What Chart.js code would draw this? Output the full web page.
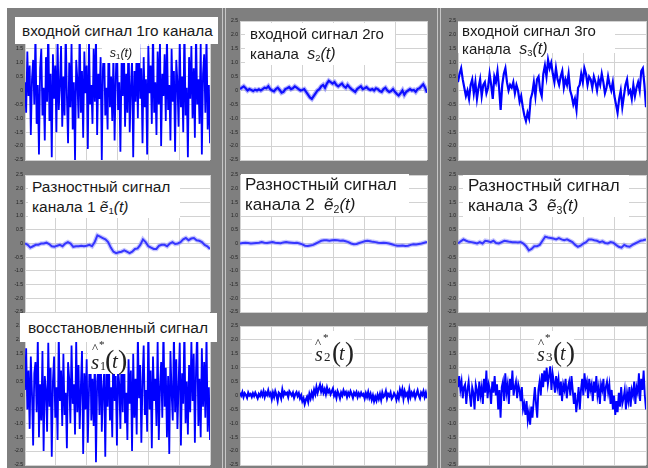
<!DOCTYPE html>
<html><head><meta charset="utf-8">
<script src="https://cdn.jsdelivr.net/npm/chart.js@4.4.1/dist/chart.umd.min.js"></script>
<style>
html,body{margin:0;padding:0;background:#fff;width:648px;height:468px;overflow:hidden;position:relative;}
#bg{position:absolute;left:7px;top:8px;width:641px;height:460px;background:#7f7f7f;}
.sep{position:absolute;top:8px;height:460px;width:1px;background:#c6c6c6;}
canvas{position:absolute;}
.lbl{position:absolute;background:#fff;color:#1a1a1a;font-family:"Liberation Sans",Arial,sans-serif;white-space:nowrap;box-sizing:border-box;z-index:5;}
.lbl i{font-style:italic;}
.sb{font-size:0.62em;vertical-align:-0.25em;font-style:normal;}
.f{position:absolute;background:#fff;font-family:"Liberation Serif","Times New Roman",serif;color:#222;z-index:5;}
.f span{position:absolute;line-height:1;}
</style></head><body>
<div id="bg"></div>
<div class="sep" style="left:222px"></div><div class="sep" style="left:225px"></div>
<div class="sep" style="left:437px"></div><div class="sep" style="left:440px"></div>

<div class="lbl" style="left:15px;top:17px;width:203px;height:27px;font-size:15.3px;line-height:27px;padding-left:7px">входной сигнал 1го канала</div>
<div class="lbl" style="left:102px;top:44px;width:38px;height:19px;font-size:12.5px;line-height:19px;text-align:center"><i>s</i><span class="sb">1</span><i>(t)</i></div>

<div class="lbl" style="left:245px;top:23px;width:150px;height:42px;font-size:15px;line-height:20px;padding-left:5px;padding-top:1px">входной сигнал 2го<br>канала&nbsp;&nbsp;<i style="font-size:16px">s</i><span class="sb">2</span><i style="font-size:16px">(t)</i></div>
<div class="lbl" style="left:458px;top:22px;width:157px;height:31px;font-size:15px;line-height:18px;padding-left:4px">входной сигнал 3го<br>канала&nbsp;&nbsp;<i style="font-size:16px">s</i><span class="sb">3</span><i style="font-size:16px">(t)</i></div>

<div class="lbl" style="left:28px;top:176px;width:152px;height:42px;font-size:15.5px;line-height:20px;padding-left:4px;padding-top:1px">Разностный сигнал<br>канала 1 <i>ẽ</i><span class="sb">1</span><i>(t)</i></div>
<div class="lbl" style="left:241px;top:174px;width:168px;height:42px;font-size:17px;line-height:20px;padding-left:4px;padding-top:1px">Разностный сигнал<br>канала 2&nbsp;&nbsp;<i>ẽ</i><span class="sb">2</span><i>(t)</i></div>
<div class="lbl" style="left:463px;top:175px;width:166px;height:42px;font-size:17px;line-height:20px;padding-left:5px;padding-top:1px">Разностный сигнал<br>канала 3&nbsp;&nbsp;<i>ẽ</i><span class="sb">3</span><i>(t)</i></div>

<div class="lbl" style="left:20px;top:313px;width:197px;height:29px;font-size:15.5px;line-height:29px;padding-left:8px">восстановленный сигнал</div>

<div class="f" style="left:88px;top:338px;width:38px;height:36px">
  <span style="left:4px;top:3px;font-size:13px">^</span><span style="left:11px;top:1px;font-size:11px">*</span>
  <span style="left:3px;top:14px;font-size:21px;font-style:italic">s</span><span style="left:12px;top:22px;font-size:12px">1</span>
  <span style="left:17px;top:8px;font-size:28px">(</span><span style="left:24px;top:13px;font-size:21px;font-style:italic">t</span><span style="left:30px;top:8px;font-size:28px">)</span>
</div>
<div class="f" style="left:312px;top:331px;width:42px;height:34px">
  <span style="left:3px;top:5px;font-size:13px">^</span><span style="left:11px;top:1px;font-size:11px">*</span>
  <span style="left:3px;top:13px;font-size:20px;font-style:italic">s</span><span style="left:12px;top:19px;font-size:13px">2</span>
  <span style="left:20px;top:8px;font-size:27px">(</span><span style="left:27px;top:12px;font-size:20px;font-style:italic">t</span><span style="left:33px;top:8px;font-size:27px">)</span>
</div>
<div class="f" style="left:534px;top:331px;width:40px;height:34px">
  <span style="left:4px;top:5px;font-size:13px">^</span><span style="left:11px;top:1px;font-size:11px">*</span>
  <span style="left:3px;top:13px;font-size:20px;font-style:italic">s</span><span style="left:12px;top:19px;font-size:13px">3</span>
  <span style="left:19px;top:8px;font-size:27px">(</span><span style="left:26px;top:12px;font-size:20px;font-style:italic">t</span><span style="left:32px;top:8px;font-size:27px">)</span>
</div>

<script>
// y tick labels
const yTicks = [-2.5,-2,-1.5,-1,-0.5,0,0.5,1,1.5,2,2.5];
const xGrid = [0,100,200,300,400,500,600];

// input signal channel 1
const s1 = [0.3,-0.8,1.4,-0.2,0.9,-1.6,0.4,1.1,-0.5,2.1,-1.2,0.2,-2.3,0.8,1.5,-0.9,0.1,-1.8,1.2,-0.4,
2.4,-1.1,0.6,-2.4,1.3,-0.3,0.9,-1.5,1.9,-0.7,0.2,1.6,-1.3,0.5,-0.9,2.2,-0.2,-1.9,1.0,-0.6,
1.7,-1.4,0.3,-2.5,1.1,0.4,-1.0,2.3,-0.8,0.7,-1.7,1.4,-0.1,0.9,-2.1,1.8,-0.5,0.2,-1.2,1.5,
-0.4,2.0,-1.6,0.6,-0.3,1.2,-2.5,0.8,1.6,-0.9,0.1,-1.4,2.4,-0.6,0.5,-1.1,1.3,-1.8,0.4,1.9,
-0.7,0.3,-2.2,1.0,-0.2,1.7,-1.3,0.6,-0.8,2.2,-1.5,0.1,1.1,-2.4,0.7,-0.4,1.5,-1.0,2.1,-0.3,
0.8,-1.9,1.2,-0.6,0.4,-2.3,1.6,-0.1,0.9,-1.2,2.3,-0.8,0.3,-1.6,1.4,-0.5,1.8,-2.0,0.6,-0.2,
1.3,-1.1,2.0,-0.7,0.2,-1.8,1.5,-0.4,0.7,-2.2,1.1,0.3,-1.3,1.9,-0.6,0.5,-1.5,2.4,-0.9,0.1,
-2.4,1.2,-0.3,1.6,-1.0,0.8,-1.7,2.2,-0.5,0.4,-1.2,1.7,-2.3,0.6,1.3,-0.8,2.0,-1.4,0.2,-1.9];

// input signal channel 2
const s2 = [0.05,0.1,0.15,0.08,0.0,0.05,0.02,-0.02,0.03,0.0,
0.04,0.0,0.05,0.1,0.08,0.15,0.05,0.0,-0.03,0.05,
0.1,0.02,-0.08,-0.05,0.05,0.08,0.12,0.05,0.08,0.15,
0.1,0.05,0.0,0.02,0.05,-0.05,-0.15,-0.25,-0.3,-0.2,
-0.1,0.0,0.05,0.15,0.2,0.1,0.25,0.35,0.3,0.25,
0.3,0.2,0.15,0.2,0.25,0.15,0.1,0.2,0.12,0.05,
0.0,-0.05,0.05,0.1,0.15,0.05,0.08,0.12,0.05,0.02,
0.05,0.0,0.08,0.05,-0.02,-0.05,0.05,0.1,0.0,-0.05,
-0.02,0.05,-0.05,-0.12,-0.18,-0.1,0.0,-0.15,-0.05,0.0,
0.05,0.0,0.02,-0.05,0.05,0.08,0.15,0.22,0.1,-0.08];

// input signal channel 3
const s3 = [0.3,0.6,0.8,0.4,0.1,-0.2,0.0,-0.3,0.2,0.4,
-0.1,0.3,-0.3,0.1,0.4,-0.2,0.2,0.3,-0.1,0.1,
0.6,0.2,-0.3,0.5,0.3,0.7,0.1,-0.7,0.2,0.6,
0.8,0.3,0.0,0.2,0.1,0.3,-0.1,0.2,0.0,-0.4,
-0.2,-0.6,-0.9,-1.1,-0.8,-1.0,-0.3,-0.1,0.3,-0.2,
0.4,0.5,0.0,-0.2,0.6,0.9,0.5,1.1,0.8,1.0,
0.6,0.3,0.8,0.4,0.2,0.5,0.7,0.1,0.4,0.2,
0.6,0.0,-0.2,-0.5,-0.3,-0.7,0.1,0.2,0.6,0.3,
0.8,0.6,0.2,0.5,0.4,0.1,0.5,0.3,0.0,0.4,
0.2,0.6,0.3,-0.1,0.1,0.5,0.2,0.0,0.3,-0.2,
-0.5,-0.8,-0.3,0.0,-0.6,-0.2,0.2,0.4,-0.1,0.0,
-0.3,0.2,-0.2,0.1,0.3,0.0,0.7,0.8,0.2,-0.6];

// difference signals
const e1 = [0.0,-0.05,-0.15,-0.1,-0.05,-0.05,0.0,0.0,0.03,-0.02,
-0.1,-0.12,-0.08,-0.05,-0.1,0.0,0.05,0.0,-0.12,-0.1,
-0.1,-0.08,-0.1,-0.08,-0.05,-0.1,0.05,0.3,0.25,0.2,
0.15,0.05,-0.15,-0.3,-0.35,-0.32,-0.3,-0.25,-0.3,-0.35,
-0.3,-0.2,-0.18,-0.05,0.15,0.05,-0.1,-0.15,-0.2,-0.2,
-0.08,-0.05,-0.05,-0.1,0.0,0.05,-0.02,0.0,0.05,0.15,
0.2,0.12,0.18,0.2,0.12,0.1,0.05,-0.05,-0.1,-0.2];
const e2 = [0.0,0.02,0.03,0.02,0.0,0.01,0.02,0.03,0.05,0.03,
0.02,0.04,0.05,0.03,0.02,0.01,0.04,0.05,0.04,0.03,
0.02,0.03,0.0,-0.03,-0.08,-0.09,-0.07,-0.05,0.0,0.05,
0.1,0.12,0.12,0.1,0.12,0.13,0.12,0.1,0.11,0.08,
0.05,0.0,-0.03,-0.02,0.02,0.05,0.08,0.1,0.08,0.06,
0.05,0.03,0.02,0.03,0.02,0.0,-0.03,-0.06,-0.08,-0.08,
-0.07,-0.09,-0.08,-0.05,-0.03,-0.04,-0.02,0.0,0.03,0.06];
const e3 = [0.0,0.08,0.15,0.1,0.06,0.05,0.03,0.0,0.05,0.0,
0.1,0.08,0.05,0.1,0.02,0.0,0.05,0.1,0.08,0.06,
0.05,0.05,0.04,0.05,0.0,-0.1,-0.25,-0.2,-0.1,-0.1,
-0.05,0.1,0.25,0.22,0.2,0.18,0.15,0.2,0.15,0.12,
0.15,0.1,0.05,-0.05,-0.12,-0.08,0.0,0.05,0.15,0.15,
0.12,0.1,0.05,0.08,0.02,0.0,0.05,0.03,-0.05,-0.12,
-0.15,-0.05,-0.1,-0.12,-0.05,0.0,0.05,0.1,0.12,0.15];

// restored signals
const r1 = [0.2,1.7,-0.5,0.9,-1.2,1.4,0.1,-1.8,0.8,1.2,
-0.6,2.1,-1.5,0.4,-0.9,1.6,-2.0,0.7,0.2,-1.3,
1.9,-0.4,1.0,-2.2,0.5,1.4,-0.8,0.3,-1.6,2.2,
-0.2,0.9,-1.1,1.5,-0.7,0.1,-1.9,1.2,0.6,-1.0,
1.8,-0.3,0.4,-1.4,2.0,-0.6,1.1,-1.2,0.3,1.6,
-2.1,0.8,-0.5,1.3,-1.7,0.2,2.3,-0.9,0.6,-1.1,
1.4,-2.4,0.5,1.0,-0.7,1.9,-1.3,0.2,0.8,-2.2,
1.2,-0.4,1.6,-0.9,0.3,-1.5,2.1,-0.2,0.7,-1.8,
1.0,0.4,-1.2,1.7,-0.6,2.4,-1.0,0.1,-1.6,1.3,
-0.3,0.9,-2.0,1.5,-0.8,0.6,-1.4,2.2,-0.1,1.1,
-1.7,0.5,1.8,-0.7,0.2,-1.3,2.5,-0.5,0.9,-1.9,
1.4,-0.2,0.6,-1.1,2.0,-1.6,0.3,1.2,-0.8,2.5,
-0.4,1.0,-1.5,0.7,-2.1,1.6,0.1,-0.9,2.3,-0.6,
1.3,-1.2,0.4,1.9,-1.8,0.8,-0.3,2.5,-1.0,0.5,
-1.4,1.1,-0.6,2.0,-0.2,1.5,-1.7,0.9,2.4,-1.1,
0.6,-1.5,1.7,-0.4,1.2,-0.8,2.2,-1.3,0.3,-1.6];
const r2 = [0.1,0.0,0.12,-0.05,0.08,0.02,-0.08,0.1,0.0,0.05,
-0.05,0.08,-0.02,0.1,0.0,-0.1,0.05,-0.02,0.12,0.0,
0.15,-0.05,0.1,0.02,0.18,0.0,0.08,-0.12,0.1,-0.05,
0.15,0.02,-0.18,0.1,0.05,-0.1,0.2,0.0,0.12,0.05,
0.1,-0.05,0.15,0.08,0.0,0.1,-0.08,0.05,0.12,-0.02,
0.08,-0.1,0.0,-0.2,-0.1,-0.3,-0.15,-0.05,-0.22,0.05,
-0.1,0.1,-0.05,0.2,0.05,0.3,0.1,0.25,0.38,0.15,
0.3,0.1,0.22,0.05,0.28,0.12,0.2,0.05,0.15,0.25,
0.0,0.1,-0.08,0.15,0.05,-0.1,0.1,0.0,0.18,0.05,
0.12,-0.05,0.1,0.0,0.15,0.05,-0.08,0.1,0.02,0.12,
-0.05,0.08,-0.02,0.1,0.0,0.05,-0.1,0.08,-0.05,0.12,
-0.08,0.05,-0.15,0.0,-0.2,-0.05,-0.18,0.02,-0.12,0.05,
-0.15,0.1,-0.05,0.0,0.15,-0.1,0.05,-0.02,0.1,-0.12,
-0.05,0.08,0.0,-0.15,0.05,-0.1,0.2,0.05,0.22,-0.1,
0.15,0.0,0.08,-0.12,0.2,-0.05,0.1,0.0,0.12,-0.08,
0.05,0.18,0.0,-0.1,0.1,0.02,0.15,-0.05,0.1,-0.1];
const r3 = [0.3,0.7,0.2,0.5,-0.1,0.3,0.4,-0.3,0.2,0.5,0.0,-0.4,0.3,0.1,-0.5,0.4,0.2,
-0.2,0.5,0.0,0.3,-0.3,0.6,0.1,0.9,-0.1,0.4,0.2,-0.3,0.5,0.1,0.7,0.0,
0.4,-0.5,0.2,-0.8,0.3,0.5,-0.2,0.8,0.1,0.4,-0.3,0.6,0.2,0.9,0.0,0.3,
0.5,-0.1,0.4,0.2,-0.2,0.3,-0.5,-0.3,-0.7,-0.2,-0.9,-0.6,-1.05,-0.4,-0.8,-0.2,
0.3,-0.3,-0.8,0.2,0.5,0.0,0.8,0.3,0.9,0.5,1.0,0.4,0.7,1.05,0.2,0.8,
0.5,0.1,0.7,0.3,0.6,0.0,0.5,-0.2,0.4,0.2,0.6,-0.1,0.3,0.5,0.0,0.7,
0.2,-0.3,0.1,-0.6,-0.2,0.3,-0.5,0.2,0.6,0.0,0.8,0.3,0.5,-0.1,0.6,0.2,
0.4,-0.2,0.5,0.1,0.7,0.0,0.3,-0.3,0.4,0.2,0.6,-0.2,0.3,0.5,0.1,0.4,
-0.3,0.2,-0.5,0.0,-0.7,-0.2,-0.6,0.1,-0.4,0.3,-0.3,-0.1,0.2,-0.5,0.1,-0.2,
0.3,-0.4,0.2,0.0,0.5,-0.3,0.3,0.1,0.8,-0.2,0.6,0.2,0.9,0.0,-0.5];

const panels = [
  {data:s1, rect:[25,21,210,160], color:'#0000ff', width:1.8},
  {data:s2, rect:[240,21,427,160], color:'#1010ff', width:2.2, glow:'rgba(110,110,255,0.55)'},
  {data:s3, rect:[458,21,646,160], color:'#0000ff', width:2.2},
  {data:e1, rect:[25,175,210,312], color:'#3535ff', width:2, glow:'rgba(140,140,255,0.5)'},
  {data:e2, rect:[240,175,427,312], color:'#3535ff', width:2, glow:'rgba(140,140,255,0.5)'},
  {data:e3, rect:[458,175,646,312], color:'#3535ff', width:2, glow:'rgba(140,140,255,0.5)'},
  {data:r1, rect:[25,326,210,465], color:'#0000ff', width:1.8},
  {data:r2, rect:[240,326,427,465], color:'#0000ff', width:2.2},
  {data:r3, rect:[458,326,646,465], color:'#0000ff', width:1.9}
];

const whiteArea = {
  id:'whiteArea',
  beforeDraw(chart){
    const a = chart.chartArea, c = chart.ctx;
    c.save(); c.fillStyle = '#ffffff';
    c.fillRect(a.left, a.top, a.right - a.left, a.bottom - a.top);
    c.restore();
  }
};

panels.forEach(p => {
  const [L,T,R,B] = p.rect;
  const cv = document.createElement('canvas');
  const w = R - L + 25, h = B - T + 10;
  cv.width = w; cv.height = h;
  cv.style.left = (L - 22) + 'px'; cv.style.top = (T - 5) + 'px';
  cv.style.width = w + 'px'; cv.style.height = h + 'px';
  document.body.appendChild(cv);
  const n = p.data.length;
  const pts = p.data.map((v,i) => ({x: i*600/(n-1), y: v}));
  const ds = [{data: pts, borderColor: p.color, borderWidth: p.width, pointRadius: 0, tension: 0, order: 1}];
  if (p.glow) ds.push({data: pts, borderColor: p.glow, borderWidth: p.width + 2.5, pointRadius: 0, tension: 0, order: 2});
  new Chart(cv, {
    type: 'line',
    data: {datasets: ds},
    options: {
      responsive: false, animation: false, devicePixelRatio: 1,
      layout: {padding: {top: 5, bottom: 5, right: 3, left: 0}},
      plugins: {legend: {display: false}, tooltip: {enabled: false}},
      scales: {
        x: {type: 'linear', min: 0, max: 600,
            afterBuildTicks: s => { s.ticks = xGrid.map(v => ({value: v})); },
            ticks: {display: false}, grid: {color: '#d2d2d2', drawTicks: false, lineWidth: 1},
            border: {display: false}, afterFit: s => { s.height = 0; }},
        y: {type: 'linear', min: -2.5, max: 2.5,
            afterBuildTicks: s => { s.ticks = yTicks.map(v => ({value: v})); },
            ticks: {font: {size: 5, family: 'Liberation Sans'}, color: '#1e1e1e', padding: 2},
            grid: {color: '#d2d2d2', drawTicks: false, lineWidth: 1},
            border: {display: false}, afterFit: s => { s.height; s.width = 22; }}
      }
    },
    plugins: [whiteArea]
  });
});
</script>
</body></html>
